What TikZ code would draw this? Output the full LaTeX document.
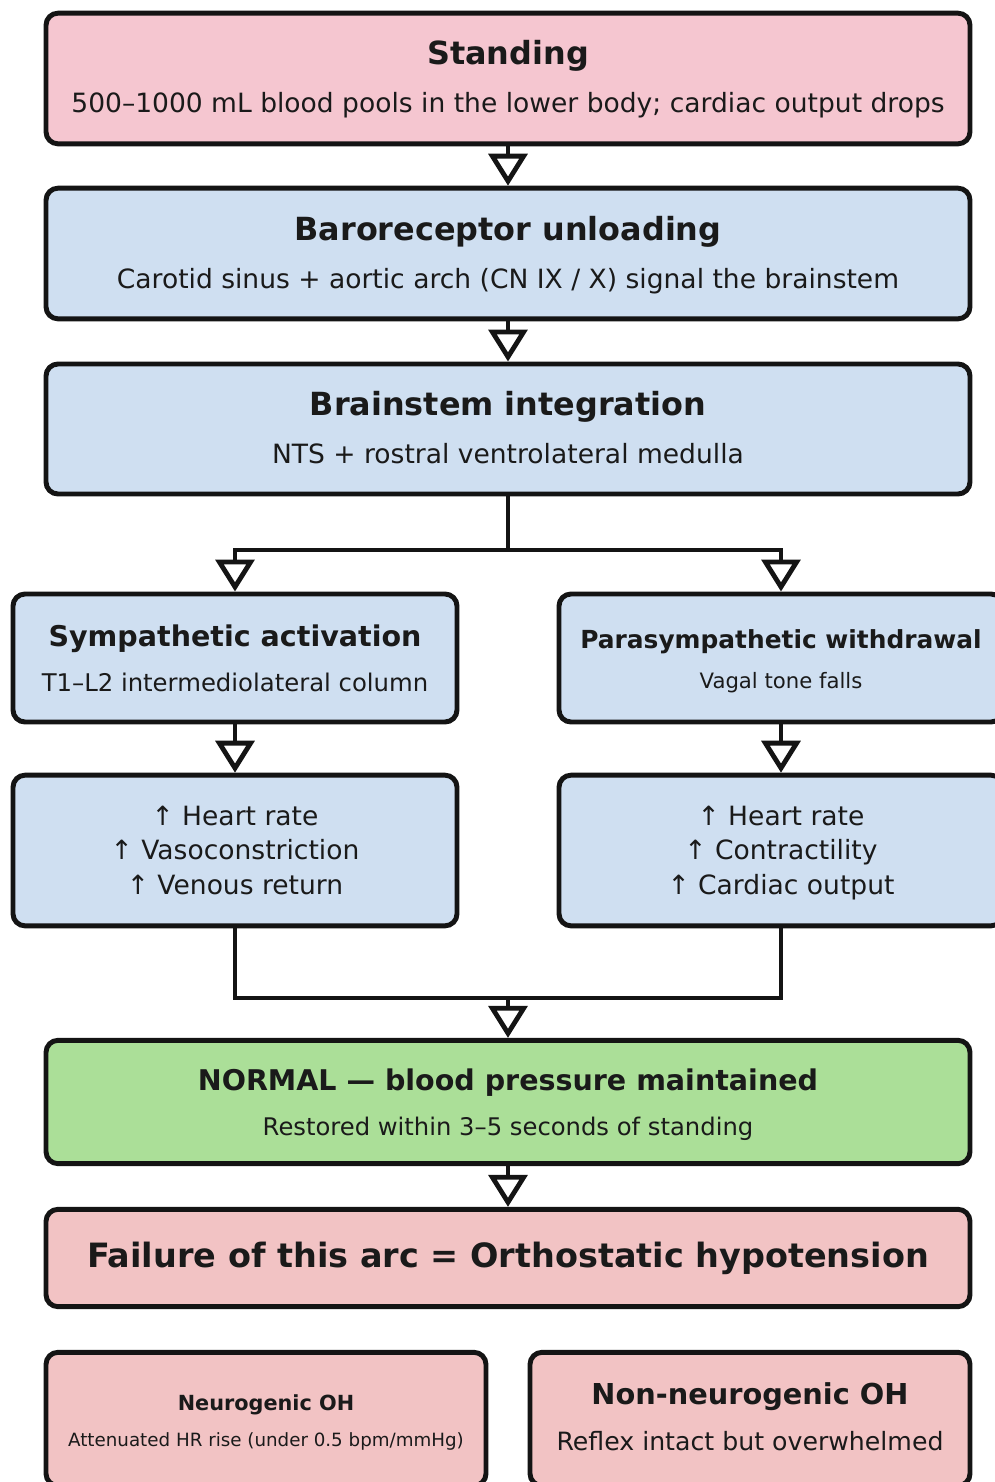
\documentclass[tikz,border=0pt]{standalone}
\usepackage{fontspec}
\setmainfont{DejaVu Sans}
\usetikzlibrary{arrows.meta}
\definecolor{edge}{HTML}{141414}
\definecolor{ink}{HTML}{1A1A1A}
\definecolor{rosefill}{HTML}{F5C6D0}
\definecolor{bluefill}{HTML}{CFDFF1}
\definecolor{greenfill}{HTML}{ABDF98}
\definecolor{redfill}{HTML}{F2C3C4}
\begin{document}
\begin{tikzpicture}[x=0.75pt,y=-0.75pt,
  box/.style={draw=edge, line width=3.7pt, rounded corners=9pt, inner sep=0pt},
  wide/.style={box, minimum width=693pt},
  half/.style={box, minimum width=333pt},
  txt/.style={text=ink, inner sep=0pt, text height=0.73em, text depth=0pt, yshift=-4.5pt},
  ttl/.style={txt, font=\fontsize{23.9}{28}\selectfont\bfseries},
  sub/.style={txt, font=\fontsize{19.9}{24}\selectfont},
  conn/.style={draw=edge, line width=3.6pt},
  arr/.style={conn, -{Triangle[fill=white, length=24pt, width=29pt, line join=miter]}}]
\useasboundingbox (0,0) rectangle (995,1482);
\clip (0,0) rectangle (995,1482);

% main column
\node[wide, fill=rosefill, minimum height=98pt] (b1) at (508,78.5) {};
\node[ttl] (b1t) at (508,54) {Standing};
\node[sub] (b1s) at (508,102) {500–1000 mL blood pools in the lower body; cardiac output drops};

\node[wide, fill=bluefill, minimum height=98pt] (b2) at (508,253.5) {};
\node[ttl] (b2t) at (508,230) {Baroreceptor unloading};
\node[sub] (b2s) at (508,278) {Carotid sinus + aortic arch (CN IX / X) signal the brainstem};

\node[wide, fill=bluefill, minimum height=97.5pt] (b3) at (508,429) {};
\node[ttl] (b3t) at (508,405) {Brainstem integration};
\node[sub] (b3s) at (508,453) {NTS + rostral ventrolateral medulla};

% two branches
\node[half, fill=bluefill, minimum height=96pt] (b4) at (235,658) {};
\node[txt, font=\fontsize{21.4}{26}\selectfont\bfseries] (b4t) at (235,636) {Sympathetic activation};
\node[txt, font=\fontsize{18.25}{22}\selectfont] (b4s) at (235,681) {T1–L2 intermediolateral column};

\node[half, fill=bluefill, minimum height=96pt] (b5) at (781,658) {};
\node[txt, font=\fontsize{18.65}{22}\selectfont\bfseries] (b5t) at (781,638) {Parasympathetic withdrawal};
\node[txt, font=\fontsize{15.9}{19}\selectfont] (b5s) at (781,678) {Vagal tone falls};

\node[half, fill=bluefill, minimum height=113pt] (b6) at (235,850.5) {};
\node[sub] (b6a) at (235,815) {↑ Heart rate};
\node[sub] (b6b) at (235,849) {↑ Vasoconstriction};
\node[sub] (b6c) at (235,884) {↑ Venous return};

\node[half, fill=bluefill, minimum height=113pt] (b7) at (781,850.5) {};
\node[sub] (b7a) at (781,815) {↑ Heart rate};
\node[sub] (b7b) at (781,849) {↑ Contractility};
\node[sub] (b7c) at (781,884) {↑ Cardiac output};

% outcome
\node[wide, fill=greenfill, minimum height=92.5pt] (b8) at (508,1102) {};
\node[txt, font=\fontsize{21.4}{26}\selectfont\bfseries] (b8t) at (508,1080) {NORMAL — blood pressure maintained};
\node[txt, font=\fontsize{18.2}{22}\selectfont] (b8s) at (508,1125) {Restored within 3–5 seconds of standing};

\node[wide, fill=redfill, minimum height=73pt] (b9) at (508,1258) {};
\node[txt, font=\fontsize{25.1}{30}\selectfont\bfseries] (b9t) at (508,1257) {Failure of this arc = Orthostatic hypotension};

\node[box, fill=redfill, minimum width=330pt, minimum height=100pt] (b10) at (266,1419) {};
\node[txt, font=\fontsize{15.6}{19}\selectfont\bfseries] (b10t) at (266,1400) {Neurogenic OH};
\node[txt, font=\fontsize{13.7}{16}\selectfont] (b10s) at (266,1436) {Attenuated HR rise (under 0.5 bpm/mmHg)};

\node[box, fill=redfill, minimum width=330pt, minimum height=100pt] (b11) at (750,1419) {};
\node[txt, font=\fontsize{21.6}{26}\selectfont\bfseries] (b11t) at (750,1394) {Non-neurogenic OH};
\node[txt, font=\fontsize{18.9}{23}\selectfont] (b11s) at (750,1440) {Reflex intact but overwhelmed};

% connectors
\coordinate (split) at (508,550);
\coordinate (merge) at (508,998);
\draw[arr] (b1.south) -- (b2.north);
\draw[arr] (b2.south) -- (b3.north);
\draw[conn] (b3.south) -- (split);
\draw[arr] (split) -| (b4.north);
\draw[arr] (split) -| (b5.north);
\draw[arr] (b4.south) -- (b6.north);
\draw[arr] (b5.south) -- (b7.north);
\draw[conn] (b6.south) |- (merge) -| (b7.south);
\draw[arr] (merge) -- (b8.north);
\draw[arr] (b8.south) -- (b9.north);
\end{tikzpicture}
\end{document}
